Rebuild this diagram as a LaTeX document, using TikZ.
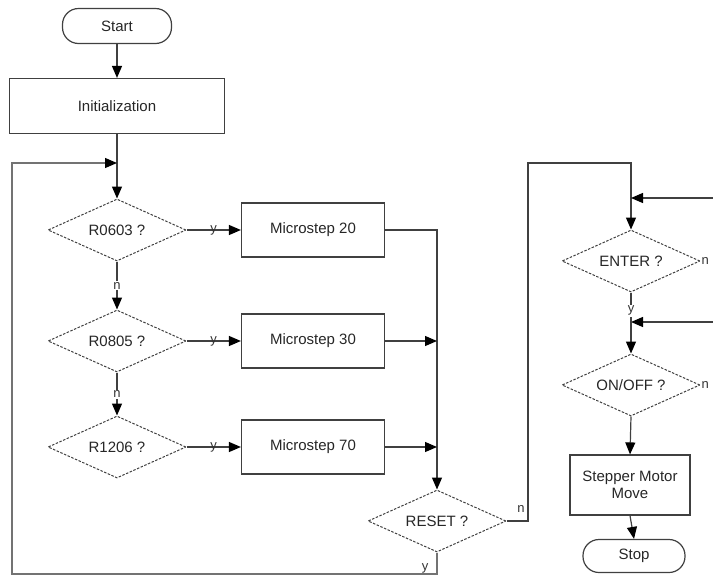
\documentclass[tikz,border=0pt]{standalone}
\usepackage{fontspec}
\setmainfont{Liberation Sans}
\usetikzlibrary{arrows.meta,shapes.geometric}

\tikzset{
  proc/.style={draw, line width=1.2pt, black!75, text=black!85,
               minimum width=143pt, minimum height=54pt, inner sep=0pt, align=center},
  decis/.style={draw, diamond, dash pattern=on 2.5pt off 1.5pt, line width=1pt, black!75, text=black!85,
                minimum width=138pt, minimum height=62pt, inner sep=0pt, aspect=2.2},
  term/.style={draw, line width=1.2pt, black!75, text=black!85, rounded corners=16pt,
               minimum width=109pt, minimum height=35pt, inner sep=0pt},
  flow/.style={line width=1.2pt, black!75},
  tag/.style={font=\fontsize{13}{13}\selectfont, text=black!80, inner sep=1pt}
}

\begin{document}
\begin{tikzpicture}[x=1pt, y=-1pt, font=\fontsize{15}{17}\selectfont,
                    >={Triangle[length=12pt,width=10pt,color=black]}]

    \useasboundingbox (0,0) rectangle (713,579);
    \clip (0,0) rectangle (713,579);

    % ==========================================================
    % columna izquierda: seleccion del encapsulado
    % ==========================================================
    \node[term] (start) at (117,26) {Start};
    \node[proc, minimum width=215pt, minimum height=55pt] (init) at (117,106) {Initialization};

    \coordinate (jloop) at (117,163);

    \foreach \n/\t/\m/\y in {r0603/{R0603 ?}/{Microstep 20}/230,
                             r0805/{R0805 ?}/{Microstep 30}/341,
                             r1206/{R1206 ?}/{Microstep 70}/447} {
        \node[decis] (\n) at (117,\y) {\t};
        \node[proc] (ms\n) at (313,\y) {\m};
        \draw[flow, ->] (\n.east) -- node[tag, pos=0.5] {y} (ms\n.west);
    }

    \node[decis] (reset) at (437,521) {RESET ?};

    % flechas verticales
    \draw[flow, ->] (start.south) -- (init.north);
    \draw[flow, ->] (init.south) -- (r0603.north);
    \draw[flow, ->] (r0603.south) -- node[tag, fill=white] {n} (r0805.north);
    \draw[flow, ->] (r0805.south) -- node[tag, fill=white] {n} (r1206.north);

    % hacia RESET
    \draw[flow, ->] (msr0603.east) -| (reset.north);
    \draw[flow, ->] (msr0805.east) -- (reset.north |- msr0805.east);
    \draw[flow, ->] (msr1206.east) -- (reset.north |- msr1206.east);

    % lazo de retorno
    \draw[flow, black!55, ->] (reset.south) -- (437,574) -- (12,574) -- (12,163) -- (jloop);
    \node[tag] at (425,568) {y};

    % ==========================================================
    % columna derecha: marcha del motor
    % ==========================================================
    \node[decis] (enter) at (631,261) {ENTER ?};
    \node[decis] (onoff) at (631,385) {ON/OFF ?};
    \node[proc, minimum width=120pt, minimum height=60pt] (motor) at (630,485) {Stepper Motor\\Move};
    \node[term, minimum width=102pt, minimum height=33pt] (stop) at (634,556) {Stop};

    \draw[flow, ->] (reset.east) -- (528,521) -- (528,163) -- (631,163) -- (enter.north);
    \node[tag] at (521,509) {n};

    \coordinate (inenter) at (713,198);
    \coordinate (inonoff) at (713,322);
    \draw[flow, ->] (inenter) -- (enter.north |- inenter);
    \draw[flow, ->] (inonoff) -- (onoff.north |- inonoff);

    \draw[flow, ->] (enter.south) -- node[tag, fill=white, pos=0.3] {y} (onoff.north);
    \draw[flow, ->] (onoff.south) -- (motor.north);
    \draw[flow, ->] (motor.south) -- (stop.north);

    \node[tag, anchor=west] at (enter.east) {n};
    \node[tag, anchor=west] at (onoff.east) {n};

\end{tikzpicture}
\end{document}
